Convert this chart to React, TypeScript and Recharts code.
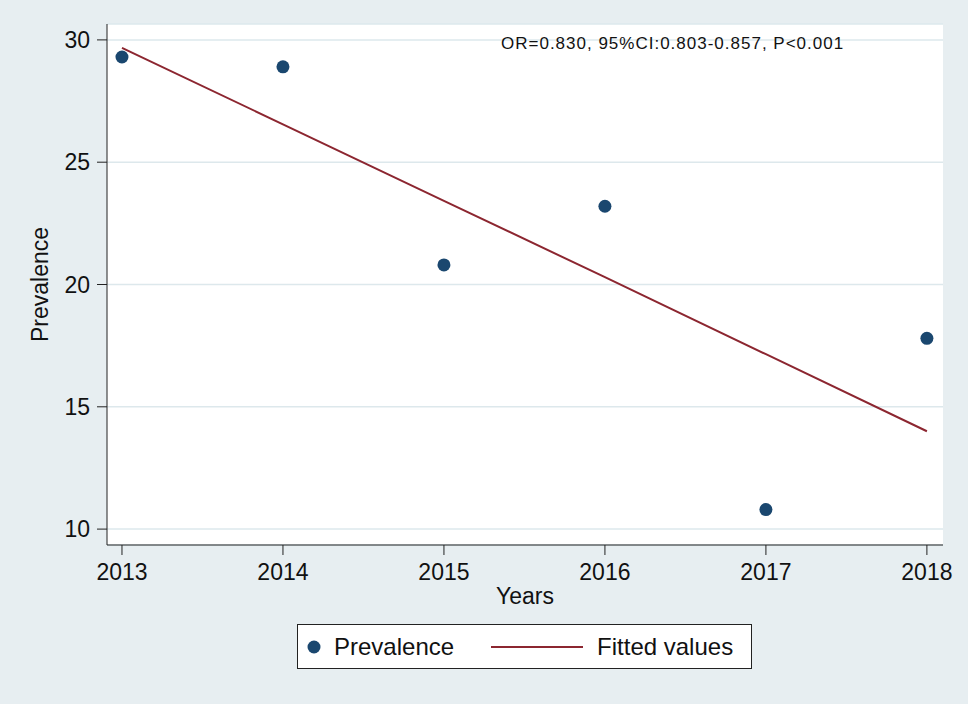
import { ComposedChart, Scatter, Line, XAxis, YAxis, CartesianGrid } from 'recharts'

if (typeof document !== 'undefined') document.body.style.margin = '0'

const years = [2013, 2014, 2015, 2016, 2017, 2018]
const prevalence = [29.3, 28.9, 20.8, 23.2, 10.8, 17.8]
const fitted = [29.67, 26.55, 23.42, 20.3, 17.15, 14.0]
const yTicks = [10, 15, 20, 25, 30]
const annotation = 'OR=0.830, 95%CI:0.803-0.857, P<0.001'

const pointData = years.map((y, i) => ({ year: y, value: prevalence[i] }))
const lineData = years.map((y, i) => ({ year: y, fit: fitted[i] }))

const BG = '#e7eef1'
const GRID = '#dde8ec'
const NAVY = '#1a476f'
const MAROON = '#8c2630'
const FONT = '"Liberation Sans", Arial, sans-serif'

const tickStyle = { fontSize: 23, fill: '#111', fontFamily: FONT }

export default function App() {
  return (
    <div style={{ position: 'relative', width: 968, height: 704, background: BG, fontFamily: FONT }}>
      <ComposedChart width={968} height={704} margin={{ top: 24, right: 25, bottom: 119, left: 47 }}>
        <CartesianGrid vertical={false} stroke={GRID} strokeWidth={1.5} fill="#ffffff" fillOpacity={1} />
        <XAxis
          dataKey="year"
          type="number"
          domain={[2012.907, 2018.1]}
          ticks={years}
          allowDataOverflow
          height={40}
          tickSize={10}
          tickMargin={9}
          stroke="#222"
          tickLine={{ stroke: '#222' }}
          tick={tickStyle}
          label={{ value: 'Years', position: 'insideBottom', offset: -19, style: { fontSize: 23, fill: '#111', fontFamily: FONT } }}
        />
        <YAxis
          type="number"
          domain={[9.35, 30.65]}
          ticks={yTicks}
          allowDataOverflow
          width={60}
          tickSize={10}
          tickMargin={7}
          stroke="#222"
          tickLine={{ stroke: '#222' }}
          tick={tickStyle}
          label={{
            content: ({ viewBox }: any) => (
              <text
                x={48}
                y={viewBox.y + viewBox.height / 2}
                transform={`rotate(-90 48 ${viewBox.y + viewBox.height / 2})`}
                textAnchor="middle"
                fontSize={23}
                fill="#111"
                fontFamily={FONT}
              >
                Prevalence
              </text>
            ),
          }}
        />
        <Line
          data={lineData}
          dataKey="fit"
          type="linear"
          stroke={MAROON}
          strokeWidth={2}
          dot={false}
          activeDot={false}
          isAnimationActive={false}
        />
        <Scatter
          data={pointData}
          dataKey="value"
          fill={NAVY}
          isAnimationActive={false}
          shape={(p: any) => <circle cx={p.cx} cy={p.cy} r={6.5} fill={NAVY} />}
        />
      </ComposedChart>

      <div style={{ position: 'absolute', left: 501, top: 35, fontSize: 17, letterSpacing: 1, color: '#111', lineHeight: 1 }}>
        {annotation}
      </div>

      <div
        style={{
          position: 'absolute',
          left: 297,
          top: 624,
          width: 453,
          height: 43,
          background: '#fff',
          border: '1.5px solid #222',
          display: 'flex',
          alignItems: 'center',
          fontSize: 24,
          color: '#111',
        }}
      >
        <svg width={36} height={20} style={{ marginLeft: 0 }}>
          <circle cx={16} cy={10} r={6.5} fill={NAVY} />
        </svg>
        <span>Prevalence</span>
        <svg width={96} height={20} style={{ marginLeft: 37 }}>
          <line x1={0} y1={10} x2={92} y2={10} stroke={MAROON} strokeWidth={2} />
        </svg>
        <span style={{ marginLeft: 10 }}>Fitted values</span>
      </div>
    </div>
  )
}
